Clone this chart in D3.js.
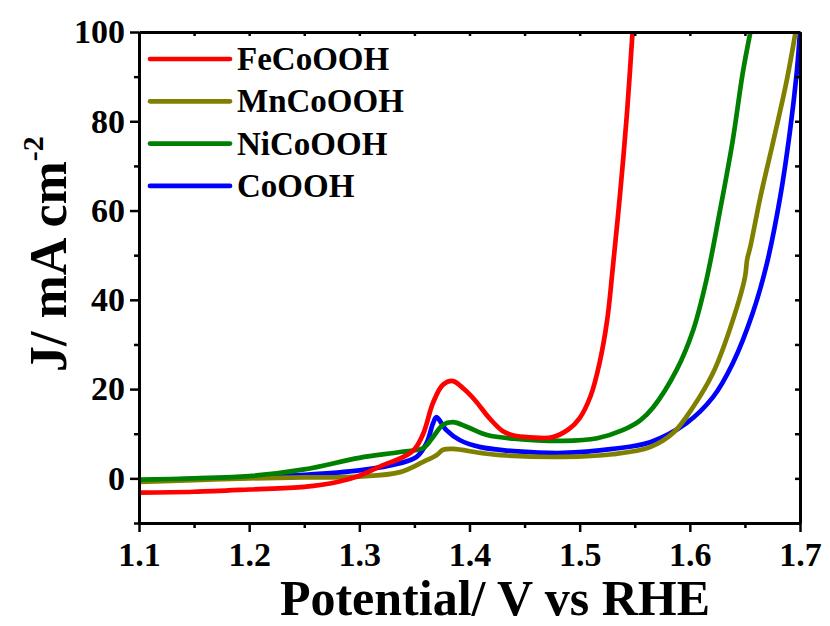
<!DOCTYPE html>
<html><head><meta charset="utf-8">
<script src="https://cdn.jsdelivr.net/npm/d3@7"></script>
<style>body{margin:0;background:#fff}svg{display:block}</style>
</head><body><svg id="c" width="830" height="626"></svg>
<script>
const seriesNames=["FeCoOOH","MnCoOOH","NiCoOOH","CoOOH"];
const seriesColors=["#ff0000","#808000","#008000","#0000ff"];
const feV=[1.10,1.15,1.20,1.25,1.28,1.30,1.32,1.34,1.35,1.358,1.367,1.376,1.385,1.395,1.405,1.418,1.43,1.44,1.455,1.475,1.49,1.50,1.51,1.518,1.525,1.53,1.537,1.543,1.548];
const feJ=[-3.2,-3.0,-2.5,-1.9,-0.8,0.6,2.8,4.8,6.5,10.0,17.0,21.0,21.8,20.0,17.5,13.5,10.6,9.6,9.2,9.2,11.0,13.5,18.5,25.8,35.5,47,64.6,82,100];
const mnV=[1.10,1.15,1.20,1.25,1.30,1.337,1.358,1.370,1.376,1.385,1.41,1.428,1.485,1.53,1.564,1.585,1.603,1.621,1.636,1.650,1.652,1.655,1.664,1.676,1.688,1.696];
const mnJ=[-0.8,-0.4,0.0,0.2,0.4,1.4,3.7,5.2,6.4,6.6,5.7,5.2,4.8,5.4,7.0,10.2,16,23.6,33.2,45,49,52,63,75.8,89.2,100];
const niV=[1.10,1.15,1.20,1.25,1.30,1.337,1.358,1.367,1.376,1.385,1.398,1.416,1.44,1.485,1.516,1.539,1.555,1.567,1.588,1.603,1.615,1.627,1.639,1.648,1.655];
const niJ=[-0.3,0.0,0.5,2.0,4.6,5.9,6.8,9.3,12.0,12.6,11.5,9.7,8.9,8.4,9.0,10.8,13.0,16,24.3,33.2,44.4,59.5,75.8,90.8,100];
const coV=[1.10,1.15,1.20,1.25,1.30,1.337,1.352,1.361,1.367,1.370,1.379,1.391,1.41,1.428,1.44,1.485,1.53,1.564,1.597,1.621,1.639,1.657,1.670,1.682,1.691,1.697,1.70];
const coJ=[-0.5,-0.1,0.3,0.8,1.8,3.4,4.8,7.9,12.4,13.7,10.8,8.6,7.0,6.4,6.1,5.7,6.6,8.1,12.4,18.2,25.8,37,48.2,63,78,90.8,100];
const xMajor=[1.1,1.2,1.3,1.4,1.5,1.6,1.7];
const xMinor=[1.15,1.25,1.35,1.45,1.55,1.65];
const yMajor=[0,20,40,60,80,100];
const yMinor=[-10,10,30,50,70,90];
const xTitle="Potential/ V vs RHE";

const FONT='"Liberation Serif","Times New Roman",serif';
const svg=d3.select("#c");
const L=139,R=800,T=32,B=523;
const x=d3.scaleLinear().domain([1.1,1.7]).range([L,R]);
const y=d3.scaleLinear().domain([-10,100]).range([B,T]);

svg.append("clipPath").attr("id","clip").append("rect").attr("x",L).attr("y",T).attr("width",R-L).attr("height",B-T);

const data=[[feV,feJ],[mnV,mnJ],[niV,niJ],[coV,coJ]];
const line=d3.line().x(d=>x(d[0])).y(d=>y(d[1])).curve(d3.curveCatmullRom.alpha(0.5));
const g=svg.append("g").attr("clip-path","url(#clip)");
[3,1,2,0].forEach(i=>{
  const pts=data[i][0].map((v,k)=>[v,data[i][1][k]]);
  g.append("path").datum(pts).attr("d",line).attr("fill","none").attr("stroke",seriesColors[i]).attr("stroke-width",4.7).attr("stroke-linejoin","round");
});

function style(sel){sel.select(".domain").attr("stroke","#000").attr("stroke-width",3);sel.selectAll(".tick line").attr("stroke","#000").attr("stroke-width",2.5);}
function lab(sel){sel.selectAll("text").style("font-family",FONT).style("font-weight","bold").style("font-size","34px").attr("fill","#000");}
function noText(sel){sel.selectAll(".tick text").remove();}
const bx=svg.append("g").attr("transform",`translate(0,${B})`).call(d3.axisBottom(x).tickValues(xMajor).tickSize(9).tickSizeOuter(0).tickPadding(10).tickFormat(d3.format(".1f")));
style(bx);lab(bx);
const bm=svg.append("g").attr("transform",`translate(0,${B})`).call(d3.axisBottom(x).tickValues(xMinor).tickSize(5).tickSizeOuter(0));
style(bm);noText(bm);
const ly=svg.append("g").attr("transform",`translate(${L},0)`).call(d3.axisLeft(y).tickValues(yMajor).tickSize(9).tickSizeOuter(0).tickPadding(5));
style(ly);lab(ly);
const lm=svg.append("g").attr("transform",`translate(${L},0)`).call(d3.axisLeft(y).tickValues(yMinor).tickSize(5).tickSizeOuter(0));
style(lm);noText(lm);
const tx=svg.append("g").attr("transform",`translate(0,${T})`).call(d3.axisTop(x).tickValues(xMajor.concat(xMinor)).tickSize(-4).tickSizeOuter(0));
style(tx);noText(tx);
const ry=svg.append("g").attr("transform",`translate(${R},0)`).call(d3.axisRight(y).tickValues(yMajor.concat(yMinor)).tickSize(-5).tickSizeOuter(0));
style(ry);noText(ry);

svg.append("text").attr("x",495).attr("y",615).attr("text-anchor","middle").style("font-family",FONT).style("font-weight","bold").style("font-size","50px").text(xTitle);
const yt=svg.append("text").attr("transform","translate(66,372) rotate(-90)").style("font-family",FONT).style("font-weight","bold").style("font-size","52px");
yt.append("tspan").text("J/ mA cm");
yt.append("tspan").style("font-size","30px").attr("dy",-23).text("-2");

const lg=svg.append("g");
seriesNames.forEach((n,i)=>{
  const yy=59+i*42.3;
  lg.append("line").attr("x1",150).attr("x2",230).attr("y1",yy).attr("y2",yy).attr("stroke",seriesColors[i]).attr("stroke-width",4.7).attr("stroke-linecap","round");
  lg.append("text").attr("x",237).attr("y",yy+11).style("font-family",FONT).style("font-weight","bold").style("font-size","33px").text(n);
});
</script></body></html>
